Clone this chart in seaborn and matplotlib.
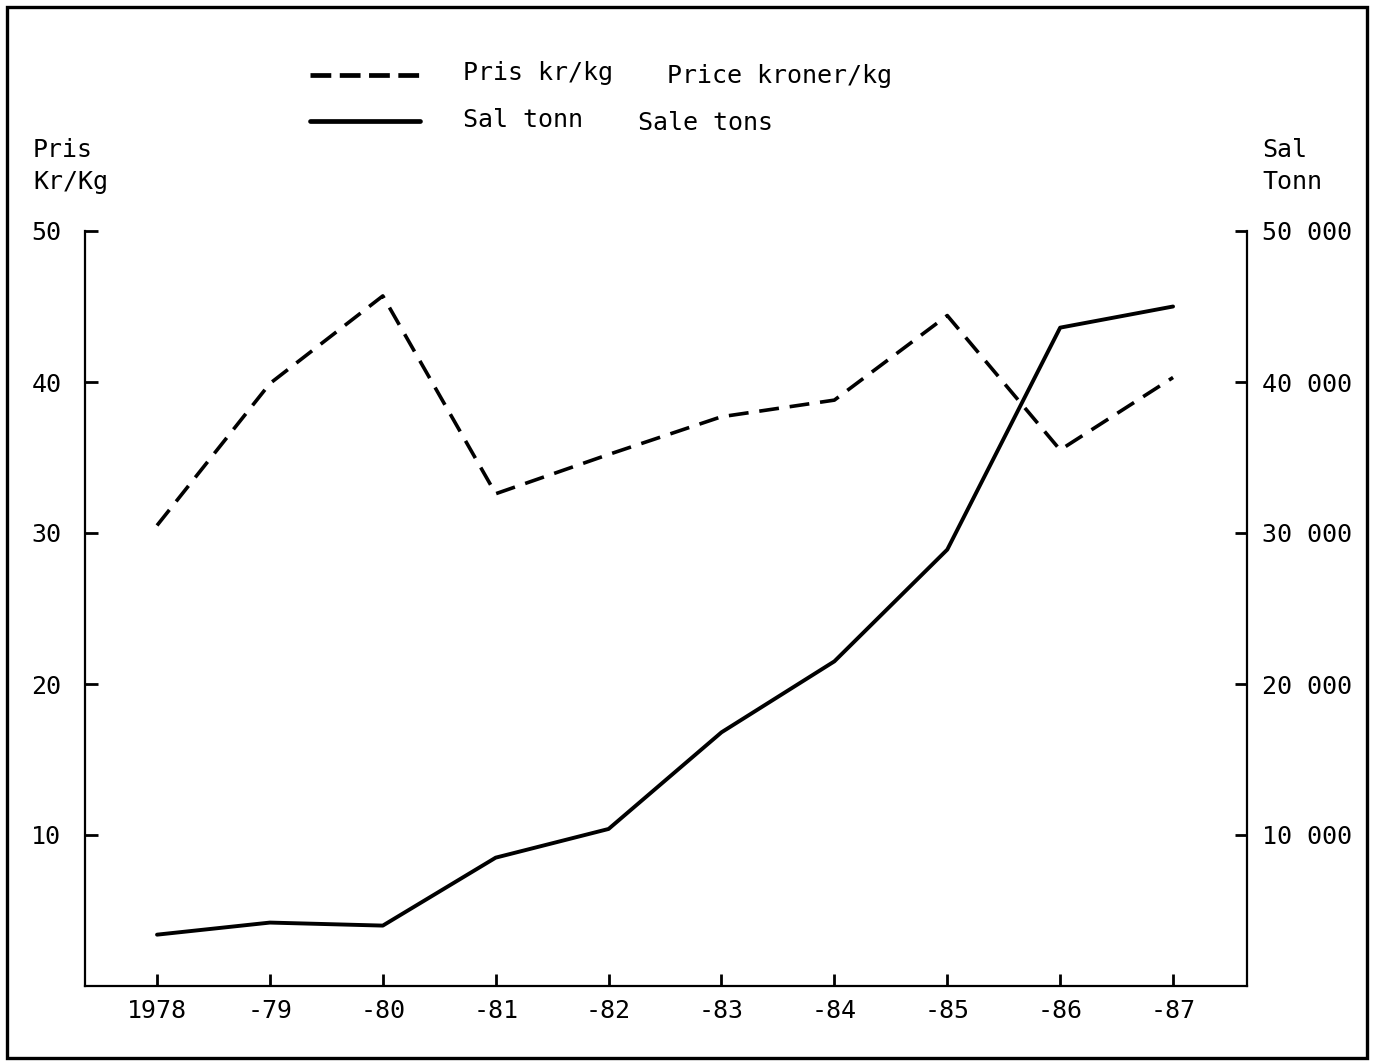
import matplotlib.pyplot as plt
import seaborn as sns
from matplotlib.lines import Line2D
from matplotlib.patches import Rectangle

years = [1978, 1979, 1980, 1981, 1982, 1983, 1984, 1985, 1986, 1987]
year_labels = ["1978", "-79", "-80", "-81", "-82", "-83", "-84", "-85", "-86", "-87"]
price_kr_kg = [30.5, 39.9, 45.7, 32.6, 35.2, 37.7, 38.8, 44.4, 35.5, 40.3]
sale_tons = [3400, 4200, 4000, 8500, 10400, 16800, 21500, 28900, 43600, 45000]
left_ticks = [10, 20, 30, 40, 50]
right_ticks = [10000, 20000, 30000, 40000, 50000]
right_labels = ["10 000", "20 000", "30 000", "40 000", "50 000"]

sns.set_style("ticks")
plt.rcParams['font.family'] = ['DejaVu Sans Mono', 'DejaVu Sans']
plt.rcParams['font.size'] = 18
plt.rcParams['text.color'] = 'black'
plt.rcParams['xtick.color'] = 'black'
plt.rcParams['ytick.color'] = 'black'
plt.rcParams['axes.labelcolor'] = 'black'

W, H = 1379, 1062
fig = plt.figure(figsize=(W / 100, H / 100), dpi=100)
ax = fig.add_axes([85 / W, 1 - 986 / H, (1247 - 85) / W, (986 - 231) / H])
ax2 = ax.twinx()

sns.lineplot(x=years, y=price_kr_kg, ax=ax, color="black", linewidth=2.6,
             linestyle=(0, (5.5, 3)))
sns.lineplot(x=years, y=sale_tons, ax=ax2, color="black", linewidth=2.8)

ax.set_xlim(1977.362, 1987.655)
ax.set_ylim(0, 50)
ax2.set_ylim(0, 50000)
ax.set_xticks(years)
ax.set_xticklabels(year_labels)
ax.set_yticks(left_ticks)
ax2.set_yticks(right_ticks)
ax2.set_yticklabels(right_labels)

for a in (ax, ax2):
    a.spines["top"].set_visible(False)
    for s in ("left", "right", "bottom"):
        a.spines[s].set_linewidth(1.6)
        a.spines[s].set_color("black")
ax.spines["right"].set_visible(False)
ax2.spines["left"].set_visible(False)
ax2.spines["bottom"].set_visible(False)

ax.tick_params(axis="y", direction="in", length=9, width=2, pad=17, labelsize=18)
ax.tick_params(axis="x", direction="in", length=9, width=2, pad=9, labelsize=18)
ax2.tick_params(axis="y", direction="in", length=9, width=2, pad=11, labelsize=18)
ax2.tick_params(axis="x", bottom=False, labelbottom=False, top=False)
ax.set_xlabel("")
ax.set_ylabel("")
ax2.set_ylabel("")

# axis titles
fig.text(33 / W, 1 - 150 / H, "Pris", ha="left", va="center", fontsize=18)
fig.text(33 / W, 1 - 182 / H, "Kr/Kg", ha="left", va="center", fontsize=18)
fig.text(1262 / W, 1 - 150 / H, "Sal", ha="left", va="center", fontsize=18)
fig.text(1262 / W, 1 - 182 / H, "Tonn", ha="left", va="center", fontsize=18)

# legend drawn by hand
fig.add_artist(Line2D([310 / W, 420 / W], [1 - 75 / H, 1 - 75 / H], color="black",
                      linewidth=3.4, linestyle=(0, (4.4, 1.8))))
fig.add_artist(Line2D([310 / W, 420 / W], [1 - 121 / H, 1 - 121 / H], color="black",
                      linewidth=3.4))
fig.text(463 / W, 1 - 73 / H, "Pris kr/kg", ha="left", va="center", fontsize=18)
fig.text(667 / W, 1 - 76 / H, "Price kroner/kg", ha="left", va="center", fontsize=18)
fig.text(463 / W, 1 - 120 / H, "Sal tonn", ha="left", va="center", fontsize=18)
fig.text(638 / W, 1 - 123 / H, "Sale tons", ha="left", va="center", fontsize=18)

# outer frame
fig.add_artist(Rectangle((7 / W, 1 - 1058 / H), (1367 - 7) / W, (1058 - 7) / H,
                         transform=fig.transFigure, fill=False, edgecolor="black",
                         linewidth=2.4))

fig.savefig("out.png", dpi=100)
